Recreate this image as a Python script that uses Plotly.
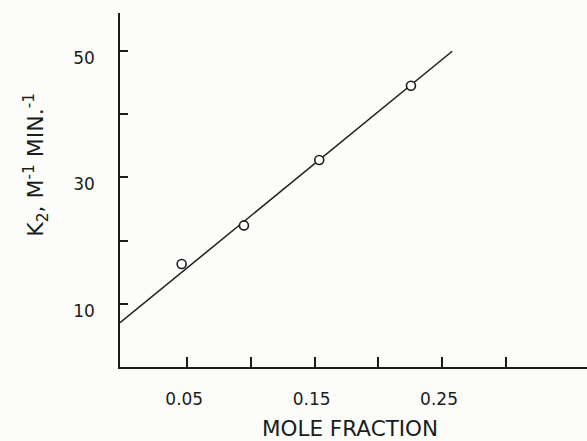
import plotly.graph_objects as go

# Data
mole_fraction = [0.0456, 0.0945, 0.1536, 0.2256]
k2 = [16.3, 22.4, 32.75, 44.5]
fit_x = [-0.0028, 0.258]
fit_y = [7.0, 49.95]

x_tickvals = [0.05, 0.10, 0.15, 0.20, 0.25, 0.30]
x_ticktext = ["0.05", "", "0.15", "", "0.25", ""]
y_tickvals = [10, 20, 30, 40, 50]
y_ticktext = ["10", "", "30", "", "50"]

INK = "#1a1d1a"
FONT = "DejaVu Sans"

fig = go.Figure()
fig.add_trace(go.Scatter(x=fit_x, y=fit_y, mode="lines",
                         line=dict(color=INK, width=1.5), hoverinfo="skip"))
fig.add_trace(go.Scatter(x=mole_fraction, y=k2, mode="markers",
                         marker=dict(symbol="circle", size=9, color="white",
                                     line=dict(color=INK, width=1.6))))

fig.update_layout(
    width=587, height=441,
    margin=dict(l=120, r=0, t=13, b=74),
    paper_bgcolor="#fcfcfa", plot_bgcolor="#fcfcfa",
    showlegend=False,
    font=dict(family=FONT, size=17, color=INK),
    xaxis=dict(range=[-0.0028, 0.3638], showgrid=False, zeroline=False,
               showline=True, linecolor=INK, linewidth=1.5,
               tickmode="array", tickvals=x_tickvals, ticktext=x_ticktext,
               ticks="inside", ticklen=10, tickwidth=1.5, tickcolor=INK,
               ticklabelstandoff=16, ticklabelshift=-3,
               tickfont=dict(family=FONT, size=17, color=INK)),
    yaxis=dict(range=[0, 56], showgrid=False, zeroline=False,
               showline=True, linecolor=INK, linewidth=1.5,
               tickmode="array", tickvals=y_tickvals, ticktext=y_ticktext,
               ticks="inside", ticklen=8, tickwidth=1.5, tickcolor=INK,
               ticklabelstandoff=20, ticklabelshift=7,
               tickfont=dict(family=FONT, size=17, color=INK)),
    annotations=[
        dict(text="MOLE FRACTION", xref="paper", yref="paper",
             x=0.4925, y=-0.175, xanchor="center", yanchor="middle",
             showarrow=False, font=dict(family=FONT, size=21.5, color=INK)),
        dict(text="K<sub>2</sub>, M<sup>-1</sup> MIN.<sup>-1</sup>",
             xref="paper", yref="paper", x=-0.18, y=0.571,
             xanchor="center", yanchor="middle", textangle=-90,
             showarrow=False, font=dict(family=FONT, size=22, color=INK)),
    ],
)

fig.write_html("out.html", config={"displayModeBar": False},
               post_script="document.body.style.margin='0';document.body.style.overflow='hidden';")
